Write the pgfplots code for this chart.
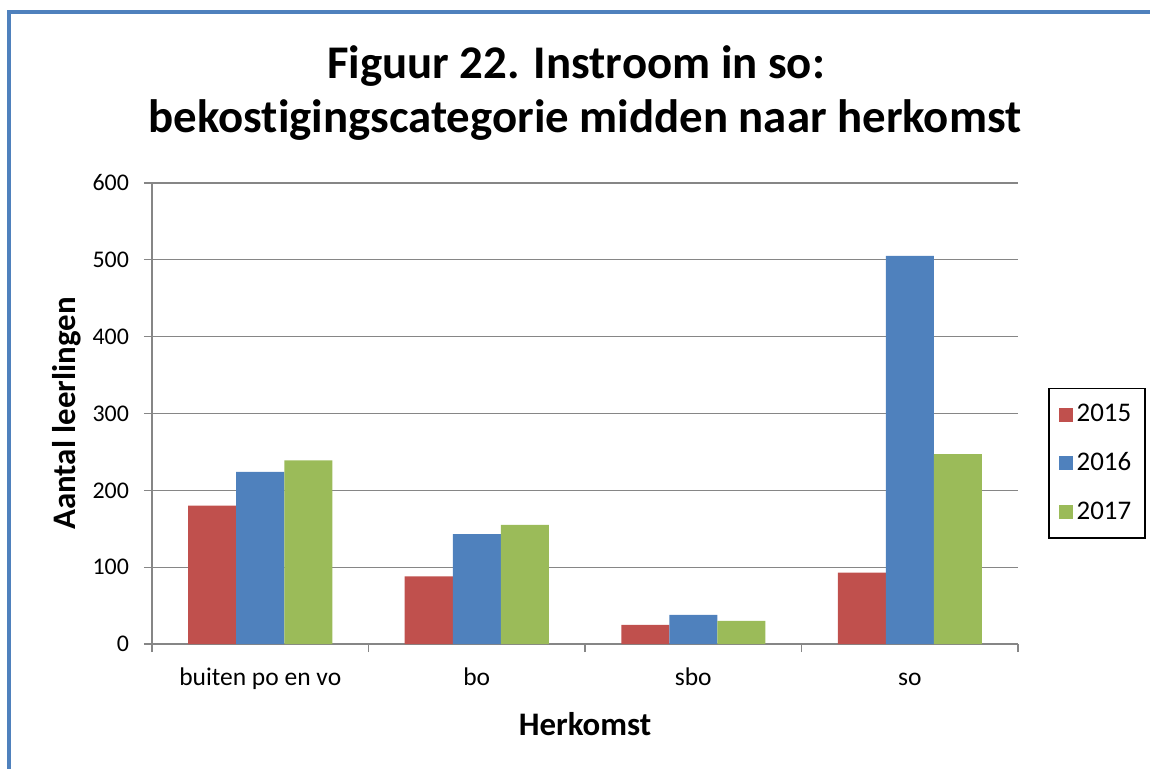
\documentclass[border=0pt]{standalone}
\usepackage{pgfplots}
\pgfplotsset{compat=1.18}
\usepackage{fontspec}
\setmainfont{Carlito}[Ligatures=NoCommon]

\definecolor{xred}{HTML}{C0504D}
\definecolor{xblue}{HTML}{4F81BD}
\definecolor{xgreen}{HTML}{9BBB59}
\definecolor{xgrid}{HTML}{868686}

\pgfplotsset{
  sqlegend/.style={legend image code/.code={\fill[##1] (0bp,-3.5bp) rectangle (7bp,3.5bp);}},
}

\begin{document}
\begin{tikzpicture}
\path[use as bounding box] (0,0) rectangle (575bp,-384.5bp);
% frame of the chart area (only top and left edge visible)
\draw[xblue, line width=2bp] (4.5bp,-384.5bp) -- (4.5bp,-6bp) -- (575bp,-6bp);

\node[font=\fontsize{23.5}{26}\selectfont\bfseries] at (288bp,-33bp) {Figuur 22. Instroom in so:};
\node[font=\fontsize{23.5}{26}\selectfont\bfseries] at (292.5bp,-60bp) {bekostigingscategorie midden naar herkomst};

\begin{axis}[
    at={(76bp,-322bp)}, anchor=south west,
    scale only axis,
    width=433bp, height=230.5bp,
    ybar=0pt,
    bar width=24bp,
    xmin=-0.5, xmax=3.5,
    ymin=0, ymax=600,
    ytick={0,100,...,600},
    xtick={-0.5,0.5,1.5,2.5,3.5},
    x tick label as interval,
    xticklabels={buiten po en vo,bo,sbo,so},
    axis x line*=bottom,
    axis y line*=left,
    axis line style={xgrid, line width=0.6bp},
    tick style={xgrid, line width=0.6bp},
    tick align=outside,
    major tick length=4bp,
    ymajorgrids,
    grid style={xgrid, line width=0.6bp},
    tick label style={font=\fontsize{12}{14}\selectfont},
    /pgf/number format/assume math mode=true,
    yticklabel style={xshift=-4bp},
    xticklabel style={font=\fontsize{12.8}{14}\selectfont, text height=0.75em, text depth=0.22em, yshift=-6bp},
    xlabel={Herkomst},
    ylabel={Aantal leerlingen},
    label style={font=\fontsize{16.5}{18}\selectfont\bfseries},
    xlabel style={yshift=-4bp},
    ylabel style={yshift=-1bp},
    legend style={at={(1.0912,0.392)}, anchor=center, draw=black, line width=0.8bp,
        font=\fontsize{13.5}{15}\selectfont, row sep=10bp, inner xsep=5bp, inner ysep=6bp},
    legend cell align=left,
]
\addplot[fill=xred, draw=none, sqlegend] coordinates {(0,180) (1,88) (2,25) (3,93)};
\addplot[fill=xblue, draw=none, sqlegend] coordinates {(0,224) (1,143) (2,38) (3,505)};
\addplot[fill=xgreen, draw=none, sqlegend] coordinates {(0,239) (1,155) (2,30) (3,247)};
\legend{2015,2016,2017}
\end{axis}
\end{tikzpicture}
\end{document}
